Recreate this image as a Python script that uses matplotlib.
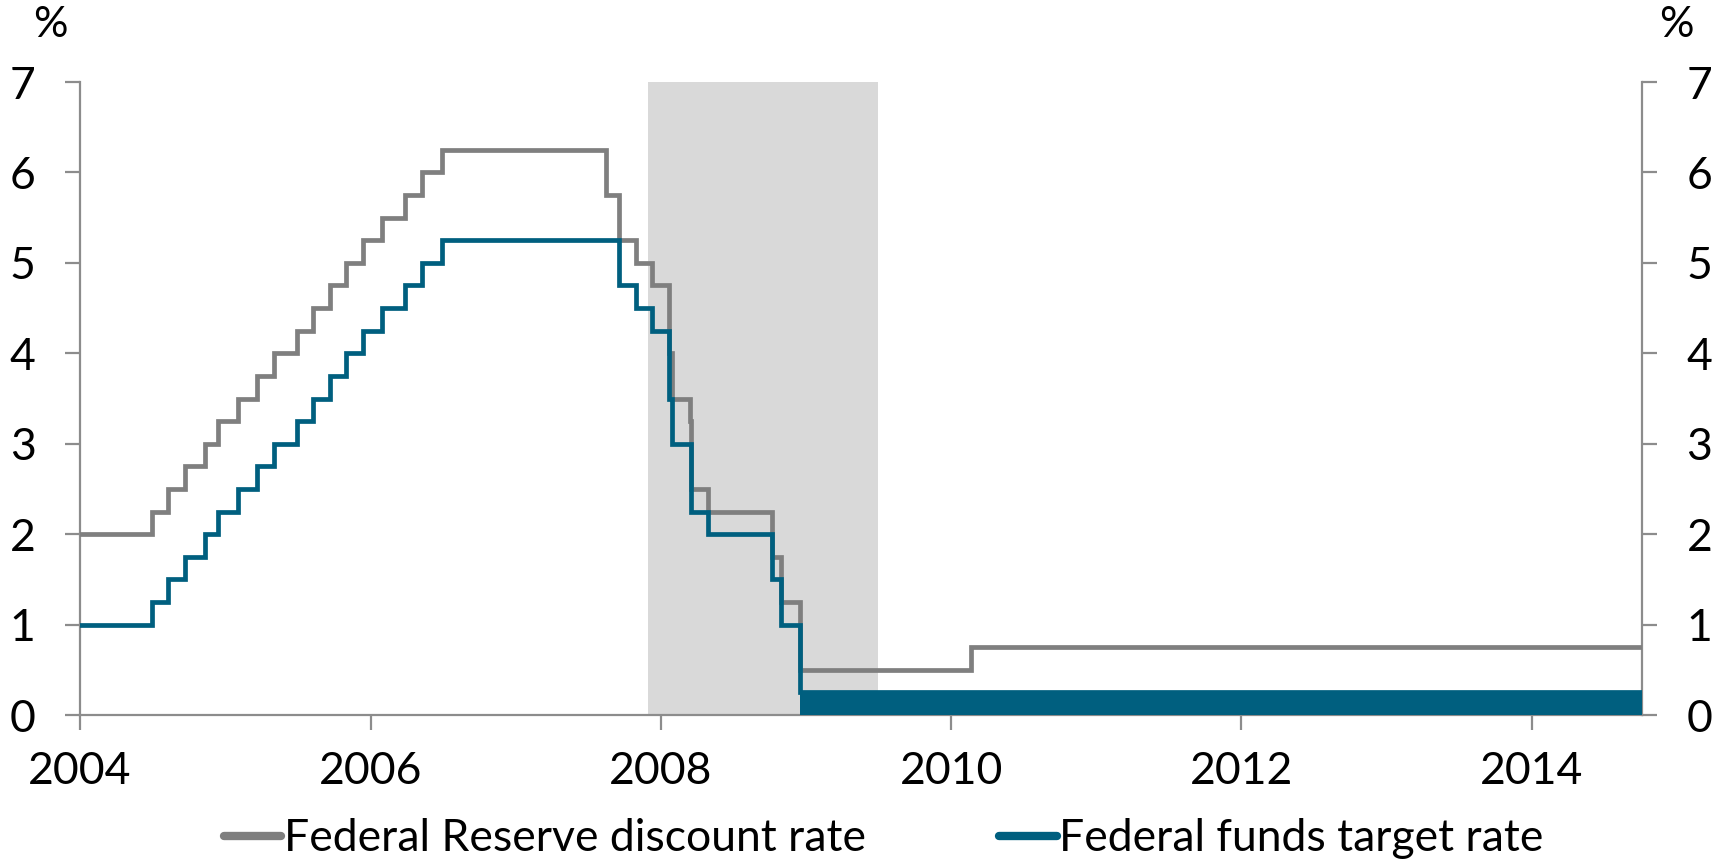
import matplotlib
matplotlib.use('Agg')
import matplotlib.pyplot as plt
import matplotlib.dates as mdates
import pandas as pd

plt.rcParams['font.family'] = ['Lato', 'DejaVu Sans']

# Federal funds target rate (upper bound after Dec 2008), changes by FOMC date
funds_dates = ['2004-01-01', '2004-06-30', '2004-08-10', '2004-09-21', '2004-11-10',
               '2004-12-14', '2005-02-02', '2005-03-22', '2005-05-03', '2005-06-30',
               '2005-08-09', '2005-09-20', '2005-11-01', '2005-12-13', '2006-01-31',
               '2006-03-28', '2006-05-10', '2006-06-29', '2007-09-18', '2007-10-31',
               '2007-12-11', '2008-01-22', '2008-01-30', '2008-03-18', '2008-04-30',
               '2008-10-08', '2008-10-29', '2008-12-16']
funds_rate = [1.00, 1.25, 1.50, 1.75, 2.00,
              2.25, 2.50, 2.75, 3.00, 3.25,
              3.50, 3.75, 4.00, 4.25, 4.50,
              4.75, 5.00, 5.25, 4.75, 4.50,
              4.25, 3.50, 3.00, 2.25, 2.00,
              1.50, 1.00, 0.25]
zlb_low, zlb_high = 0.0, 0.25

# Discount (primary credit) rate
disc_dates = ['2004-01-01', '2004-06-30', '2004-08-10', '2004-09-21', '2004-11-10',
              '2004-12-14', '2005-02-02', '2005-03-22', '2005-05-03', '2005-06-30',
              '2005-08-09', '2005-09-20', '2005-11-01', '2005-12-13', '2006-01-31',
              '2006-03-28', '2006-05-10', '2006-06-29', '2007-08-17', '2007-09-18',
              '2007-10-31', '2007-12-11', '2008-01-22', '2008-01-30', '2008-03-16',
              '2008-03-18', '2008-04-30', '2008-10-08', '2008-10-29', '2008-12-16',
              '2010-02-19']
disc_rate = [2.00, 2.25, 2.50, 2.75, 3.00,
             3.25, 3.50, 3.75, 4.00, 4.25,
             4.50, 4.75, 5.00, 5.25, 5.50,
             5.75, 6.00, 6.25, 5.75, 5.25,
             5.00, 4.75, 4.00, 3.50, 3.25,
             2.50, 2.25, 1.75, 1.25, 0.50,
             0.75]

end_date = '2014-10-05'
recession = ('2007-12-01', '2009-06-30')

gray = '#7f7f7f'
blue = '#005f7f'
axis_col = '#8c8c8c'

fd = pd.to_datetime(funds_dates + [end_date])
fr = funds_rate + [funds_rate[-1]]
dd = pd.to_datetime(disc_dates + [end_date])
dr = disc_rate + [disc_rate[-1]]

fig = plt.figure(figsize=(17.21, 8.63), dpi=100)
ax = fig.add_axes([80 / 1721, 1 - 715 / 863, 1562 / 1721, 633 / 863])

ax.axvspan(pd.Timestamp(recession[0]), pd.Timestamp(recession[1]),
           color='#d9d9d9', lw=0, zorder=0)

ax.step(dd, dr, where='post', color=gray, lw=3.4, zorder=3,
        solid_joinstyle='miter', label='Federal Reserve discount rate')
ax.step(fd, fr, where='post', color=blue, lw=3.4, zorder=4,
        solid_joinstyle='miter', label='Federal funds target rate')
ax.fill_between(pd.to_datetime([funds_dates[-1], end_date]), zlb_low, zlb_high,
                color=blue, lw=0, zorder=4)

ax.set_xlim(pd.Timestamp('2004-01-01'), pd.Timestamp(end_date))
ax.set_ylim(0, 7)
ax.set_yticks(range(0, 8))
ax.xaxis.set_major_locator(mdates.YearLocator(2))
ax.xaxis.set_major_formatter(mdates.DateFormatter('%Y'))

ax.spines['top'].set_visible(False)
for side in ['left', 'right', 'bottom']:
    ax.spines[side].set_color(axis_col)
    ax.spines[side].set_linewidth(1.6)
    ax.spines[side].set_zorder(2)

ax.tick_params(axis='y', direction='out', length=11, width=1.6, color=axis_col,
               labelsize=32, pad=21, left=True, right=True,
               labelleft=True, labelright=True)
ax.tick_params(axis='x', direction='out', length=11, width=1.6, color=axis_col,
               labelsize=32, pad=15)

fig.text(50 / 1721, 1 - 25 / 863, '%', ha='center', va='center', fontsize=31)
fig.text(1676 / 1721, 1 - 25 / 863, '%', ha='center', va='center', fontsize=31)

leg = fig.legend(loc='center', bbox_to_anchor=(0.5134, 0.028), ncol=2, frameon=False,
                 fontsize=32, handlelength=1.3, handletextpad=0.05,
                 columnspacing=3.0)
for line in leg.get_lines():
    line.set_linewidth(6)
    line.set_solid_capstyle('round')

fig.savefig('out.png', dpi=100)
